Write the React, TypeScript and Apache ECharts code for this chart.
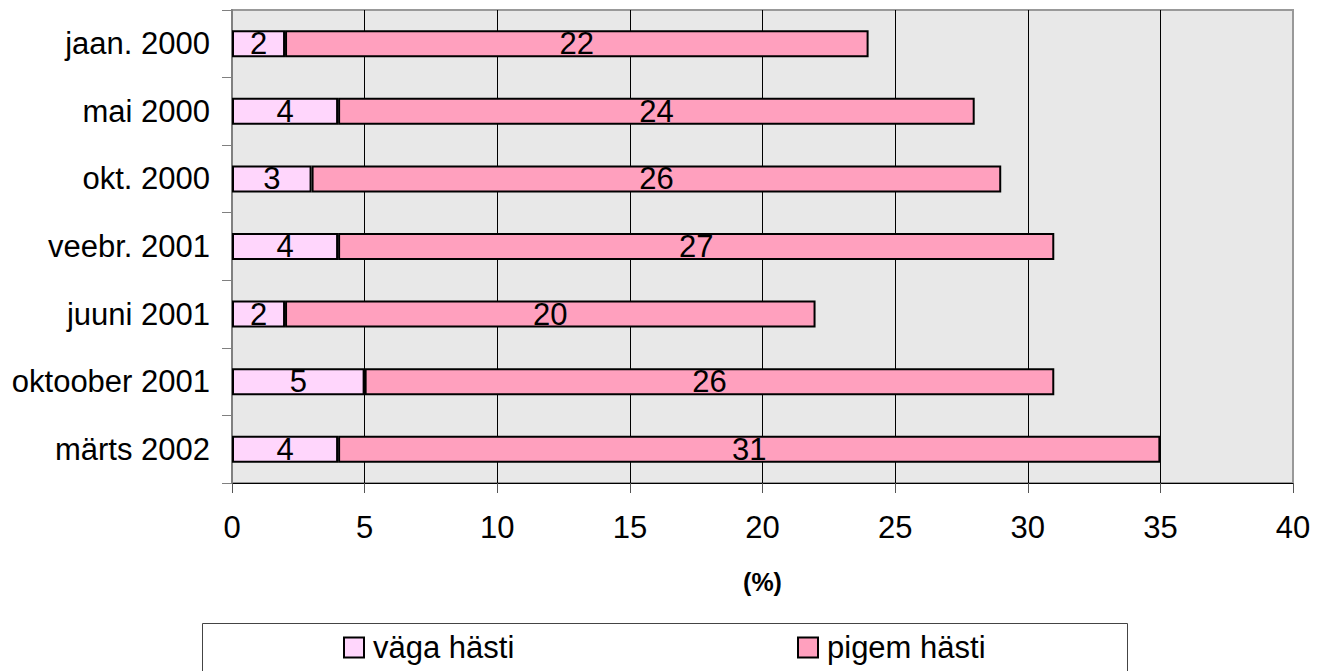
import React, { useEffect, useRef } from "react";
import * as echarts from "echarts";

const categories = ["jaan. 2000", "mai 2000", "okt. 2000", "veebr. 2001", "juuni 2001", "oktoober 2001", "märts 2002"];
const vagaHasti = [2, 4, 3, 4, 2, 5, 4];
const pigemHasti = [22, 24, 26, 27, 20, 26, 31];
const xTicks = { min: 0, max: 40, interval: 5 };
const seriesNames = ["väga hästi", "pigem hästi"];

const FONT = "'Liberation Sans', Arial, sans-serif";

export default function App() {
  const ref = useRef<HTMLDivElement>(null);
  useEffect(() => {
    if (!ref.current) return;
    const chart = echarts.init(ref.current, undefined, { renderer: "svg" });
    const label = {
      show: true,
      position: "inside",
      color: "#000",
      fontSize: 31,
      fontFamily: FONT,
    };
    const legendText = { fontSize: 31, color: "#000", fontFamily: FONT, padding: [0, 0, 0, 4] };
    chart.setOption({
      animation: false,
      textStyle: { fontFamily: FONT },
      grid: {
        left: 232,
        right: 33,
        top: 10,
        bottom: 188,
        show: true,
        backgroundColor: "#E8E8E8",
        borderColor: "#999999",
        borderWidth: 2,
      },
      xAxis: {
        type: "value",
        min: xTicks.min,
        max: xTicks.max,
        interval: xTicks.interval,
        name: "(%)",
        nameLocation: "middle",
        nameGap: 86,
        nameTextStyle: { fontSize: 25, fontWeight: "bold", color: "#000", fontFamily: FONT },
        axisLine: { show: true, lineStyle: { color: "#000", width: 1 } },
        axisTick: { show: true, length: 10, lineStyle: { color: "#555" } },
        axisLabel: { fontSize: 31, color: "#000", margin: 29, fontFamily: FONT },
        splitLine: { show: true, showMinLine: false, showMaxLine: false, lineStyle: { color: "#000", width: 1 } },
      },
      yAxis: {
        type: "category",
        data: categories,
        inverse: true,
        axisLine: { show: true, lineStyle: { color: "#808080", width: 2 } },
        axisTick: { show: true, length: 10, lineStyle: { color: "#808080" } },
        axisLabel: { fontSize: 31, color: "#000", margin: 22, fontFamily: FONT },
      },
      legend: [
        {
          data: [seriesNames[0]],
          left: 343,
          top: 632,
          padding: 0,
          icon: "rect",
          itemWidth: 20,
          itemHeight: 20,
          itemGap: 0,
          textStyle: legendText,
        },
        {
          data: [seriesNames[1]],
          left: 797,
          top: 632,
          padding: 0,
          icon: "rect",
          itemWidth: 20,
          itemHeight: 20,
          itemGap: 0,
          textStyle: legendText,
        },
      ],
      graphic: [
        {
          type: "rect",
          shape: { x: 202.5, y: 623.5, width: 925, height: 80 },
          style: { fill: "none", stroke: "#444", lineWidth: 1 },
          silent: true,
        },
      ],
      series: [
        {
          name: seriesNames[0],
          type: "bar",
          stack: "total",
          data: vagaHasti,
          barWidth: "40%",
          itemStyle: { color: "#FFD6FC", borderColor: "#000", borderWidth: 2 },
          label,
        },
        {
          name: seriesNames[1],
          type: "bar",
          stack: "total",
          data: pigemHasti,
          barWidth: "40%",
          itemStyle: { color: "#FFA0BE", borderColor: "#000", borderWidth: 2 },
          label,
        },
      ],
    });
    return () => chart.dispose();
  }, []);
  return (
    <div
      ref={ref}
      style={{ position: "fixed", left: 0, top: 0, width: 1326, height: 671, background: "#fff" }}
    />
  );
}
